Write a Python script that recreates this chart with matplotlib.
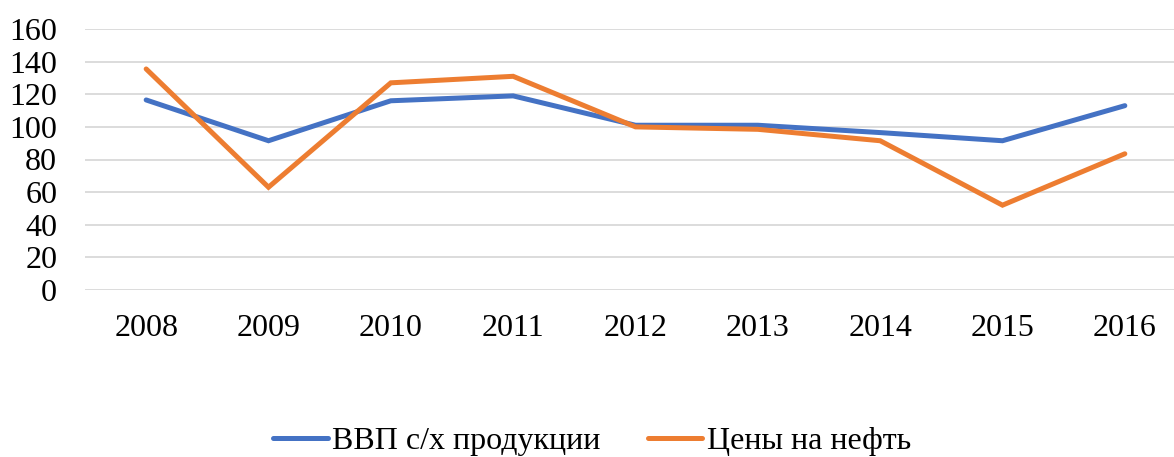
import matplotlib
matplotlib.use("Agg")
import matplotlib.pyplot as plt

years = ["2008", "2009", "2010", "2011", "2012", "2013", "2014", "2015", "2016"]
gdp_agri = [116.5, 91.5, 116, 119, 101, 101, 96.5, 91.5, 113]
oil_prices = [135.5, 63, 127, 131, 100, 98.5, 91.5, 52, 83.5]
y_ticks = [0, 20, 40, 60, 80, 100, 120, 140, 160]

plt.rcParams['font.family'] = ['Liberation Serif', 'DejaVu Serif']

W, H = 1174, 457
fig = plt.figure(figsize=(W / 100, H / 100), dpi=100)
ax = fig.add_axes([85 / W, 1 - 290 / H, (1186 - 85) / W, (290 - 29) / H])

x = list(range(len(years)))
ax.plot(x, gdp_agri, color="#4472C4", lw=3.6, solid_capstyle="round",
        solid_joinstyle="miter", label="ВВП с/х продукции", zorder=3)
ax.plot(x, oil_prices, color="#ED7D31", lw=3.6, solid_capstyle="round",
        solid_joinstyle="miter", label="Цены на нефть", zorder=3)

ax.set_xlim(-0.5, len(years) - 0.5)
ax.set_ylim(0, 160)
ax.set_yticks(y_ticks)
ax.set_yticklabels([str(v) for v in y_ticks])
ax.set_xticks(x)
ax.set_xticklabels(years)
ax.yaxis.grid(True, color="#D9D9D9", lw=1.3)
ax.set_axisbelow(True)
for s in ax.spines.values():
    s.set_visible(False)
ax.tick_params(axis="both", length=0, labelsize=23, colors="black")
ax.tick_params(axis="y", pad=20)
ax.tick_params(axis="x", pad=17)

fig.legend(loc="center", bbox_to_anchor=(592 / W, 1 - 441 / H), ncol=2,
           frameon=False, fontsize=23, handlelength=1.72, handletextpad=0.13,
           columnspacing=1.47, borderpad=0.2)

fig.savefig("out.png", dpi=100)
